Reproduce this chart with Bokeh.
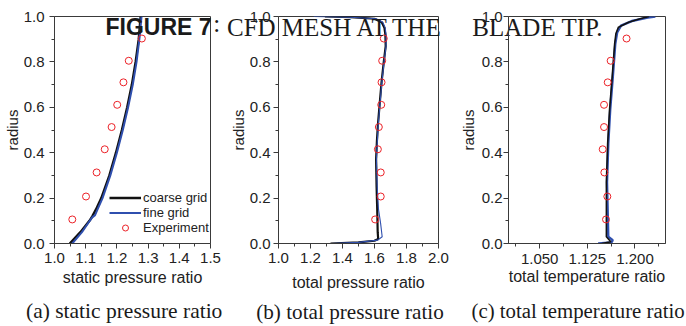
from bokeh.plotting import figure
from bokeh.layouts import row
from bokeh.models import Range1d, FixedTicker, NumeralTickFormatter, LinearAxis
from bokeh.embed import file_html
from bokeh.resources import INLINE

# ---------------- data ----------------
exp_radius = [0.106, 0.207, 0.313, 0.415, 0.513, 0.611, 0.710, 0.805, 0.903]

# (a) static pressure ratio
static_exp = [1.057, 1.101, 1.135, 1.161, 1.183, 1.201, 1.221, 1.238, 1.280]
static_coarse_r = [0.0, 0.05, 0.1, 0.12, 0.15, 0.2, 0.3, 0.4, 0.5, 0.6, 0.7, 0.8, 0.9, 1.0]
static_coarse_x = [1.049, 1.083, 1.112, 1.121, 1.133, 1.150, 1.176, 1.197, 1.216, 1.233, 1.248, 1.260, 1.270, 1.276]
static_fine_r = [0.0, 0.05, 0.1, 0.115, 0.125, 0.15, 0.2, 0.3, 0.4, 0.5, 0.6, 0.7, 0.8, 0.9, 1.0]
static_fine_x = [1.057, 1.088, 1.113, 1.121, 1.130, 1.138, 1.154, 1.179, 1.200, 1.219, 1.236, 1.251, 1.263, 1.272, 1.279]

# (b) total pressure ratio
tp_exp = [1.604, 1.639, 1.639, 1.621, 1.627, 1.642, 1.644, 1.648, 1.658]
tp_coarse_r = [0.0, 0.005, 0.012, 0.02, 0.05, 0.15, 0.25, 0.37, 0.45, 0.52, 0.62, 0.71, 0.8, 0.87, 0.92, 0.95, 0.975, 0.99, 0.997, 1.0]
tp_coarse_x = [1.325, 1.50, 1.60, 1.623, 1.620, 1.617, 1.613, 1.610, 1.615, 1.621, 1.633, 1.644, 1.658, 1.670, 1.668, 1.662, 1.645, 1.60, 1.45, 1.29]
tp_fine_r = [0.0, 0.005, 0.015, 0.03, 0.09, 0.15, 0.25, 0.37, 0.52, 0.62, 0.71, 0.8, 0.87, 0.92, 0.95, 0.975, 0.99, 0.997, 1.0]
tp_fine_x = [1.33, 1.50, 1.62, 1.648, 1.638, 1.625, 1.617, 1.612, 1.623, 1.635, 1.646, 1.660, 1.672, 1.672, 1.667, 1.652, 1.61, 1.45, 1.22]

# (c) total temperature ratio
tt_exp = [1.1544, 1.1565, 1.1518, 1.1492, 1.1513, 1.1513, 1.1571, 1.1617, 1.1867]
tt_coarse_r = [0.0, 0.008, 0.03, 0.27, 0.44, 0.59, 0.73, 0.88, 0.925, 0.953, 0.975, 0.99, 1.0]
tt_coarse_x = [1.148, 1.162, 1.155, 1.155, 1.157, 1.160, 1.164, 1.168, 1.170, 1.174, 1.190, 1.208, 1.222]
tt_fine_r = [0.0, 0.005, 0.015, 0.03, 0.27, 0.44, 0.59, 0.73, 0.88, 0.93, 0.96, 0.98, 0.995, 1.0]
tt_fine_x = [1.142, 1.163, 1.165, 1.158, 1.156, 1.158, 1.161, 1.165, 1.169, 1.172, 1.178, 1.195, 1.220, 1.232]

y_ticks = [0.0, 0.2, 0.4, 0.6, 0.8, 1.0]
y_minor = [0.1, 0.3, 0.5, 0.7, 0.9]
xa_ticks = [1.0, 1.1, 1.2, 1.3, 1.4, 1.5]
xa_minor = [1.05, 1.15, 1.25, 1.35, 1.45]
xb_ticks = [1.0, 1.2, 1.4, 1.6, 1.8, 2.0]
xb_minor = [1.1, 1.3, 1.5, 1.7, 1.9]
xc_ticks = [1.05, 1.125, 1.2]
xc_minor = [1.0125, 1.0875, 1.1625, 1.2375]

title_parts = ["FIGURE 7", "\u00a0\u00a0:", "CFD MESH AT THE", "BLADE TIP."]
captions = ["(a) static pressure ratio", "(b) total pressure ratio", "(c) total temperature ratio"]

BLACK = "#111111"
BLUE = "#2f4fae"
RED = "#ec2228"
AXC = "#3a3a3a"
SANS = "Liberation Sans"
SERIF = "Liberation Serif"


def make_fig(width, left, right, xr, xt, xm, xfmt, xlabel, ylstd, ystd, xlstd, xstd):
    p = figure(width=width, height=326, x_range=Range1d(*xr), y_range=Range1d(0, 1),
               output_backend="svg", toolbar_location=None,
               min_border_left=left, min_border_right=right,
               min_border_top=16, min_border_bottom=82)
    p.xgrid.visible = False
    p.ygrid.visible = False
    p.outline_line_color = AXC
    p.outline_line_width = 1
    p.background_fill_color = "white"
    p.border_fill_color = "white"
    for ax in (p.xaxis[0], p.yaxis[0]):
        ax.axis_line_color = AXC
        ax.major_tick_line_color = AXC
        ax.minor_tick_line_color = AXC
        ax.major_tick_out = 5
        ax.major_tick_in = 0
        ax.minor_tick_out = 3
        ax.minor_tick_in = 0
        ax.major_label_text_font = SANS
        ax.major_label_text_font_size = "15px"
        ax.major_label_text_color = "#222222"
        ax.axis_label_text_font = SANS
        ax.axis_label_text_font_style = "normal"
        ax.axis_label_text_color = "#222222"
    xa = p.xaxis[0]
    xa.ticker = FixedTicker(ticks=xt, minor_ticks=xm)
    xa.formatter = NumeralTickFormatter(format=xfmt)
    xa.axis_label = xlabel
    xa.axis_label_text_font_size = "16px"
    xa.major_label_standoff = xstd
    xa.axis_label_standoff = xlstd
    ya = p.yaxis[0]
    ya.ticker = FixedTicker(ticks=y_ticks, minor_ticks=y_minor)
    ya.formatter = NumeralTickFormatter(format="0.0")
    ya.axis_label = "radius"
    ya.axis_label_text_font_size = "15px"
    ya.major_label_standoff = ylstd
    ya.axis_label_standoff = ystd
    return p


def text_axis(p, side, xpos, text, font, size, standoff, style="normal"):
    """An axis without line or ticks whose single tick label carries a text."""
    ax = LinearAxis(ticker=FixedTicker(ticks=[xpos], minor_ticks=[]),
                    major_label_overrides={xpos: text})
    ax.axis_line_color = None
    ax.major_tick_line_color = None
    ax.minor_tick_line_color = None
    ax.major_tick_out = 0
    ax.major_tick_in = 0
    ax.minor_tick_out = 0
    ax.minor_tick_in = 0
    ax.major_label_standoff = standoff
    ax.major_label_text_font = font
    ax.major_label_text_font_size = size
    ax.major_label_text_font_style = style
    ax.major_label_text_color = "#1a1a1a"
    p.add_layout(ax, side)
    return ax


# ---------------- panel (a) ----------------
p1 = make_fig(226, 51, 16, (1.0, 1.5), xa_ticks, xa_minor, "0.0",
              "static pressure ratio", 5, 0, 3, 4)
p1.line(static_coarse_x, static_coarse_r, line_color=BLACK, line_width=2.4, legend_label="coarse grid")
p1.line(static_fine_x, static_fine_r, line_color=BLUE, line_width=2.0, legend_label="fine grid")
p1.scatter(static_exp, exp_radius, marker="circle", size=7, fill_color=None,
           line_color=RED, line_width=1, legend_label="Experiment")
lg = p1.legend[0]
lg.location = (55, 8)
lg.margin = 0
lg.padding = 0
lg.spacing = 0
lg.glyph_width = 32
lg.glyph_height = 15
lg.label_height = 15
lg.label_standoff = 2
lg.label_text_font = SANS
lg.label_text_font_size = "13px"
lg.label_text_color = "#222222"
lg.border_line_alpha = 0
lg.background_fill_alpha = 0
text_axis(p1, "above", 1.3333, title_parts[0], SANS, "23px", -23, "bold")
text_axis(p1, "above", 1.5, title_parts[1], SERIF, "25px", -26)
text_axis(p1, "below", 1.2233, captions[0], SERIF, "21.5px", 10)

# ---------------- panel (b) ----------------
p2 = make_fig(230, 52, 18, (1.0, 2.0), xb_ticks, xb_minor, "0.0",
              "total pressure ratio", 3, 0, 8, 4)
p2.line(tp_coarse_x, tp_coarse_r, line_color=BLACK, line_width=2.2)
p2.line(tp_fine_x, tp_fine_r, line_color=BLUE, line_width=1.1)
p2.scatter(tp_exp, exp_radius, marker="circle", size=7, fill_color=None,
           line_color=RED, line_width=1)
text_axis(p2, "above", 1.347, title_parts[2], SERIF, "25px", -24)
text_axis(p2, "below", 1.447, captions[1], SERIF, "21.2px", 6)

# ---------------- panel (c) ----------------
p3 = make_fig(230, 50, 21, (1.001, 1.248), xc_ticks, xc_minor, "0.000",
              "total temperature ratio", 1, 2, 1, 5)
p3.line(tt_fine_x, tt_fine_r, line_color=BLUE, line_width=2.4)
p3.line(tt_coarse_x, tt_coarse_r, line_color=BLACK, line_width=1.6)
p3.scatter(tt_exp, exp_radius, marker="circle", size=7, fill_color=None,
           line_color=RED, line_width=1)
text_axis(p3, "above", 1.0468, title_parts[3], SERIF, "25px", -24)
text_axis(p3, "below", 1.1105, captions[2], SERIF, "20.8px", 11)

layout = row(p1, p2, p3, spacing=0)
open("out.html", "w").write(file_html(layout, INLINE))
